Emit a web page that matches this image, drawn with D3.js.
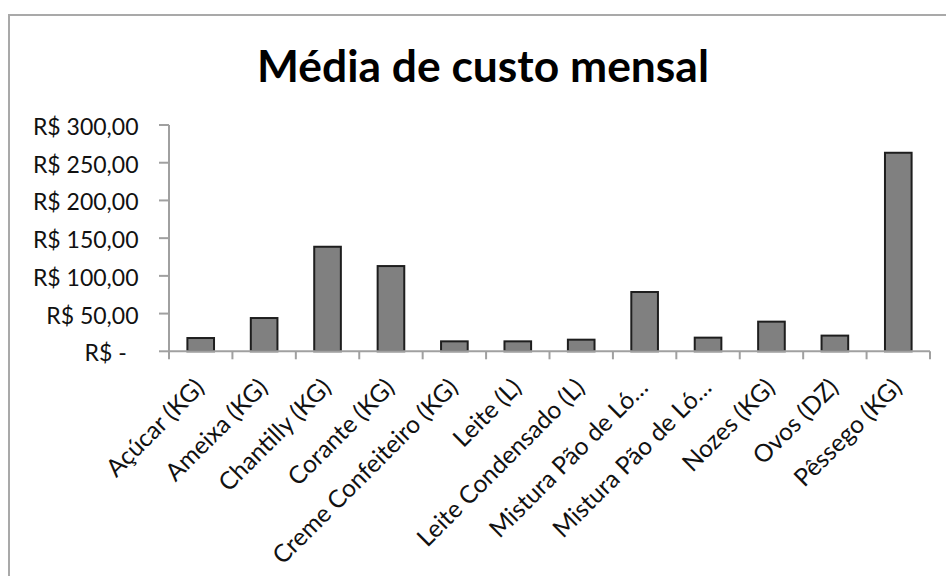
<!DOCTYPE html>
<html>
<head>
<meta charset="utf-8">
<script src="https://cdn.jsdelivr.net/npm/d3@7"></script>
<style>
  html, body { margin: 0; padding: 0; background: #fff; overflow: hidden; }
  svg { display: block; }
  text { font-family: Lato, "Open Sans", "Liberation Sans", sans-serif; }
</style>
</head>
<body>
<svg id="chart" width="946" height="576"></svg>
<script>
// Monthly average cost per ingredient
const title = "Média de custo mensal";
const categories = [
  "Açúcar (KG)", "Ameixa (KG)", "Chantilly (KG)", "Corante (KG)",
  "Creme Confeiteiro (KG)", "Leite (L)", "Leite Condensado (L)",
  "Mistura Pão de Ló…", "Mistura Pão de Ló…", "Nozes (KG)", "Ovos (DZ)", "Pêssego (KG)"
];
const values = [17.6, 44.1, 138.6, 113, 13.2, 13.2, 15.4, 78.6, 18.1, 39.3, 20.8, 263.2];
const yTicks = [0, 50, 100, 150, 200, 250, 300];

const svg = d3.select("#chart");
const W = 946, H = 576;
const plot = { left: 169, right: 930, top: 125, bottom: 351.3 };

// chart-area frame (runs off the right and bottom edges)
svg.append("rect")
  .attr("x", 9).attr("y", 15)
  .attr("width", W + 20).attr("height", H + 20)
  .attr("fill", "#fff")
  .attr("stroke", "#a9a9a9").attr("stroke-width", 2);

// title, sized to a fixed width
const t = svg.append("text")
  .attr("x", 483).attr("y", 82)
  .attr("text-anchor", "middle")
  .attr("font-weight", 700)
  .attr("fill", "#000")
  .attr("font-size", 42)
  .text(title);
const tw = t.node().getComputedTextLength();
t.attr("font-size", 42 * 452 / tw);

const ptBR = d3.formatLocale({ decimal: ",", thousands: ".", grouping: [3], currency: ["R$ ", ""] });
const money = ptBR.format("$,.2f");

const idx = d3.range(categories.length);
const x = d3.scaleBand().domain(idx).range([plot.left, plot.right])
  .paddingInner(0.58).paddingOuter(0.29);
const y = d3.scaleLinear().domain([0, 300]).range([plot.bottom, plot.top]);

const axisColor = "#a0a0a0";

// y axis
const gy = svg.append("g");
gy.append("line")
  .attr("x1", plot.left).attr("x2", plot.left)
  .attr("y1", y(300)).attr("y2", y(0))
  .attr("stroke", axisColor).attr("stroke-width", 2);
gy.selectAll("line.tick").data(yTicks).join("line")
  .attr("class", "tick")
  .attr("x1", plot.left - 10).attr("x2", plot.left)
  .attr("y1", d => y(d)).attr("y2", d => y(d))
  .attr("stroke", axisColor).attr("stroke-width", 2);
gy.selectAll("text").data(yTicks).join("text")
  .attr("x", d => d === 0 ? 126.7 : 138.5)
  .attr("y", d => y(d) + 10)
  .attr("text-anchor", "end")
  .attr("font-size", 23)
  .attr("fill", "#111")
  .text(d => d === 0 ? "R$ -" : money(d));

// bars
svg.append("g").selectAll("rect").data(values).join("rect")
  .attr("x", (d, i) => x(i))
  .attr("y", d => y(d))
  .attr("width", x.bandwidth())
  .attr("height", d => y(0) - y(d))
  .attr("fill", "#808080")
  .attr("stroke", "#1e1e1e").attr("stroke-width", 2);

// x axis
const gx = svg.append("g");
const step = x.step();
gx.append("line")
  .attr("x1", plot.left).attr("x2", plot.right)
  .attr("y1", y(0)).attr("y2", y(0))
  .attr("stroke", axisColor).attr("stroke-width", 2);
gx.selectAll("line.tick").data(d3.range(categories.length + 1)).join("line")
  .attr("class", "tick")
  .attr("x1", i => plot.left + i * step).attr("x2", i => plot.left + i * step)
  .attr("y1", y(0)).attr("y2", y(0) + 8)
  .attr("stroke", axisColor).attr("stroke-width", 2);
gx.selectAll("text").data(categories).join("text")
  .attr("transform", (d, i) => `translate(${x(i) + x.bandwidth() / 2 + 5},${389}) rotate(-45)`)
  .attr("text-anchor", "end")
  .attr("font-size", 24.5)
  .attr("fill", "#111")
  .text(d => d);
</script>
</body>
</html>
